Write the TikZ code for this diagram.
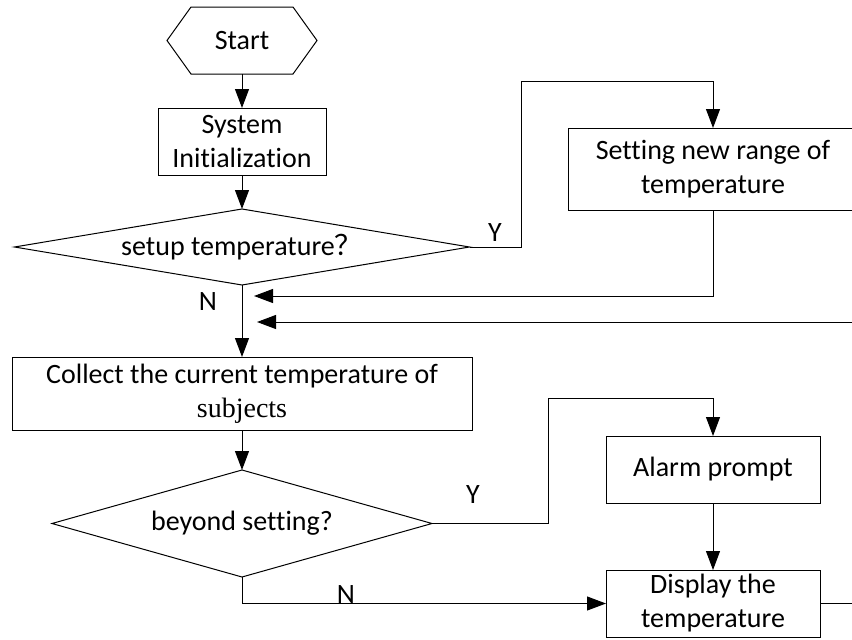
\documentclass[tikz,border=0pt]{standalone}
\usepackage{fontspec}
\setmainfont{Carlito}[Ligatures={NoCommon,NoRare,NoDiscretionary},Contextuals=NoAlternate]
\newfontfamily\subjfont{Liberation Serif}
\newfontfamily\cjkfont{Noto Sans CJK SC}
\usetikzlibrary{arrows.meta,shapes.geometric}
% keeps the letters t and i apart, as plain glyphs
\newcommand{\tisep}{t\kern0pt i}

\begin{document}
\begin{tikzpicture}[x=1pt,y=-1pt,
  line width=1pt,
  every node/.style={font=\fontsize{28}{34}\selectfont, inner sep=0pt, outer sep=0pt},
  procbox/.style={draw, rectangle, align=center},
  decision/.style={draw, diamond},
  flow/.style={draw, -{Triangle[length=19pt,width=14pt]}}]

\useasboundingbox (0,0) rectangle (852,640);

% terminal
\node[minimum width=150pt, minimum height=67pt] (start) at (242,40.5) {Start};
\draw (start.west) -- ++(24,-33.5) -- ++(102,0) -- (start.east)
      -- ++(-24,33.5) -- ++(-102,0) -- cycle;

% process boxes
\node[procbox, minimum width=168pt, minimum height=67pt] (init) at (242,141.5)
  {System\\Ini\tisep aliza\tisep on};
\node[procbox, minimum width=290pt, minimum height=82pt] (setr) at (713,169)
  {Set\tisep ng new range of\\temperature};
\node[procbox, minimum width=460pt, minimum height=73pt] (coll) at (242,393.5)
  {Collect the current temperature of\\{\subjfont subjects}};
\node[procbox, minimum width=214pt, minimum height=67pt] (alarm) at (713,469.5)
  {Alarm prompt};
\node[procbox, minimum width=214pt, minimum height=67pt] (disp) at (713,603.5)
  {Display the\\temperature};

% decisions
\node[decision, minimum width=455pt, minimum height=76pt] (dset) at (242,247) {};
\node (dsettxt) at (242,247) {setup temperature{\cjkfont ？}};
\node[decision, minimum width=380pt, minimum height=107pt] (dchk) at (242,523.5) {};
\node (dchktxt) at (242,523.5) {beyond set\tisep ng?};

% bend points and loose ends
\coordinate (ybend1) at (521,81);
\coordinate (ret1) at (254,296);
\coordinate (ret2) at (257,322);
\coordinate (ybend2) at (548,398);

% connectors
\path[flow] (start.south) -- (init.north);
\path[flow] (init.south) -- (dset.north);
\path[flow] (dset.east) -| (ybend1) -| (setr.north);
\path[flow] (setr.south) |- (ret1);
\path[flow] (disp.east) -- ++(50,0) |- (ret2);
\path[flow] (dset.south) -- (coll.north);
\path[flow] (coll.south) -- (dchk.north);
\path[flow] (dchk.east) -| (ybend2) -| (alarm.north);
\path[flow] (alarm.south) -- (disp.north);
\path[flow] (dchk.south) |- (disp.west);

% branch labels
\node (n1) at (208,302) {N};
\node (y1) at (495,233) {Y};
\node (y2) at (473,495) {Y};
\node (n2) at (346,595) {N};
\end{tikzpicture}
\end{document}
